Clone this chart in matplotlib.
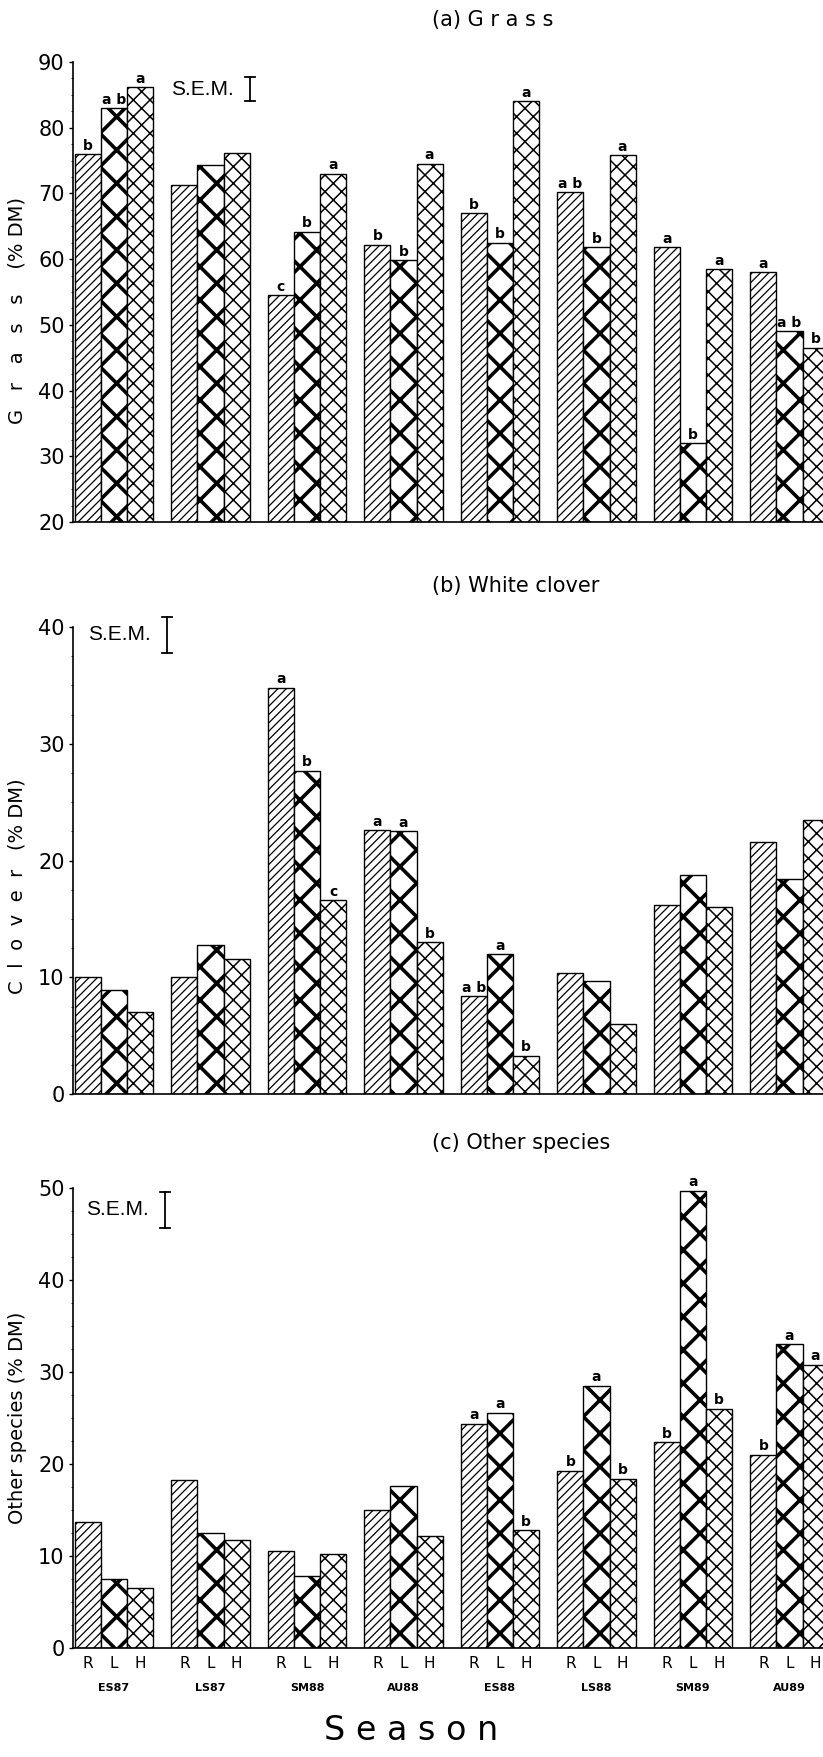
import numpy as np
import matplotlib
matplotlib.use("Agg")
import matplotlib.pyplot as plt
import matplotlib.transforms as mtransforms

plt.rcParams['font.family'] = ['DejaVu Sans']

seasons = ['ES87', 'LS87', 'SM88', 'AU88', 'ES88', 'LS88', 'SM89', 'AU89']
treatments = ['R', 'L', 'H']

# panel (a) grass % DM
grass_R = [76, 71.3, 54.5, 62.2, 67, 70.2, 61.8, 58]
grass_L = [83, 74.3, 64.2, 59.8, 62.5, 61.8, 32, 49]
grass_H = [86.2, 76.2, 73, 74.5, 84, 75.8, 58.5, 46.5]
grass_let_R = ['b', '', 'c', 'b', 'b', 'a b', 'a', 'a']
grass_let_L = ['a b', '', 'b', 'b', 'b', 'b', 'b', 'a b']
grass_let_H = ['a', '', 'a', 'a', 'a', 'a', 'a', 'b']

# panel (b) white clover % DM
clover_R = [10, 10, 34.8, 22.6, 8.4, 10.4, 16.2, 21.6]
clover_L = [8.9, 12.8, 27.7, 22.5, 12, 9.7, 18.8, 18.4]
clover_H = [7, 11.6, 16.6, 13, 3.3, 6, 16, 23.5]
clover_let_R = ['', '', 'a', 'a', 'a b', '', '', '']
clover_let_L = ['', '', 'b', 'a', 'a', '', '', '']
clover_let_H = ['', '', 'c', 'b', 'b', '', '', '']

# panel (c) other species % DM
other_R = [13.7, 18.3, 10.6, 15, 24.4, 19.3, 22.4, 21]
other_L = [7.5, 12.5, 7.8, 17.6, 25.6, 28.5, 49.7, 33]
other_H = [6.5, 11.8, 10.2, 12.2, 12.8, 18.4, 26, 30.8]
other_let_R = ['', '', '', '', 'a', 'b', 'b', 'b']
other_let_L = ['', '', '', '', 'a', 'a', 'a', 'a']
other_let_H = ['', '', '', '', 'b', 'b', 'b', 'a']

# S.E.M. bars (x in group units, low, high)
sem_grass = (1.41, 84.0, 87.7)
sem_clover = (0.55, 37.8, 40.9)
sem_other = (0.53, 45.7, 49.6)

hatches = ['////', 'x', 'xx']
hatch_lw = [0.9, 2.6, 1.1]
width = 0.27

fig = plt.figure(figsize=(8.23, 17.57), dpi=100)
axA = fig.add_axes([0.0887, 0.7029, 0.9113, 0.2618])
axB = fig.add_axes([0.0887, 0.3773, 0.9113, 0.2658])
axC = fig.add_axes([0.0887, 0.0620, 0.9113, 0.2618])

x = np.arange(len(seasons))


def draw_panel(ax, series, letters, ylim, sem, ylabel, label_y, title):
    for k, (vals, lets) in enumerate(zip(series, letters)):
        pos = x + (k - 1) * width
        with plt.rc_context({'hatch.linewidth': hatch_lw[k]}):
            bars = ax.bar(pos, np.array(vals) - ylim[0], width, bottom=ylim[0],
                          facecolor='white', edgecolor='black', linewidth=1.0,
                          hatch=hatches[k])
        for b in bars:
            if hasattr(b, 'set_hatch_linewidth'):
                b.set_hatch_linewidth(hatch_lw[k])
        for p, v, t in zip(pos, vals, lets):
            if t:
                ax.annotate(t, (p, v), xytext=(0, 1), textcoords='offset points',
                            ha='center', va='bottom', fontsize=10,
                            fontweight='bold', family='DejaVu Sans Condensed')
    ax.set_xlim(-0.425, 7.347)
    ax.set_ylim(*ylim)
    ax.set_yticks(np.arange(ylim[0], ylim[1] + 1, 10))
    ax.set_yticks(np.arange(ylim[0], ylim[1] + 0.1, 2.5), minor=True)
    ax.tick_params(axis='y', labelsize=15, length=3, width=1, pad=3)
    ax.tick_params(axis='y', which='minor', length=1.5)
    for s in ['top', 'right']:
        ax.spines[s].set_visible(False)
    ax.spines['left'].set_linewidth(1.2)
    ax.spines['bottom'].set_linewidth(1.2)
    ax.set_xticks([])
    # S.E.M. marker
    sx, lo, hi = sem
    ax.plot([sx, sx], [lo, hi], color='black', lw=1.3, clip_on=False)
    ax.plot([sx - 0.05, sx + 0.05], [lo, lo], color='black', lw=1.3, clip_on=False)
    ax.plot([sx - 0.05, sx + 0.05], [hi, hi], color='black', lw=1.3, clip_on=False)
    ax.text(sx - 0.17, (lo + hi) / 2, 'S.E.M.', ha='right', va='center',
            fontsize=15, family='Liberation Sans')
    ax.set_ylabel(ylabel, fontsize=14)
    ax.yaxis.set_label_coords(-0.062, label_y)
    fig.text(0.525, title[1], title[0], ha='left', va='center', fontsize=15)


draw_panel(axA, [grass_R, grass_L, grass_H],
           [grass_let_R, grass_let_L, grass_let_H], (20, 90), sem_grass,
           'G   r   a   s   s    (% DM)', 0.46, ('(a) G r a s s', 1 - 20 / 1757))
draw_panel(axB, [clover_R, clover_L, clover_H],
           [clover_let_R, clover_let_L, clover_let_H], (0, 40), sem_clover,
           'C  l  o  v  e  r   (% DM)', 0.445, ('(b) White clover', 1 - 586 / 1757))
draw_panel(axC, [other_R, other_L, other_H],
           [other_let_R, other_let_L, other_let_H], (0, 50), sem_other,
           'Other species (% DM)', 0.5, ('(c) Other species', 1 - 1143 / 1757))

# treatment and season labels under the bottom panel
ticks = np.concatenate([x + (k - 1) * width for k in range(3)])
labs = [t for t in treatments for _ in seasons]
axC.set_xticks(ticks)
axC.set_xticklabels(labs, fontsize=11)
axC.tick_params(axis='x', length=0, pad=6)
trans = mtransforms.blended_transform_factory(axC.transData, fig.transFigure)
for i, s in enumerate(seasons):
    axC.text(x[i], 1 - 1688 / 1757, s, transform=trans, ha='center', va='center',
             fontsize=8, fontweight='bold', clip_on=False)
fig.text(0.5, 1 - 1731 / 1757, 'S e a s o n', ha='center', va='center',
         fontsize=24)

fig.savefig('out.png', dpi=100)
